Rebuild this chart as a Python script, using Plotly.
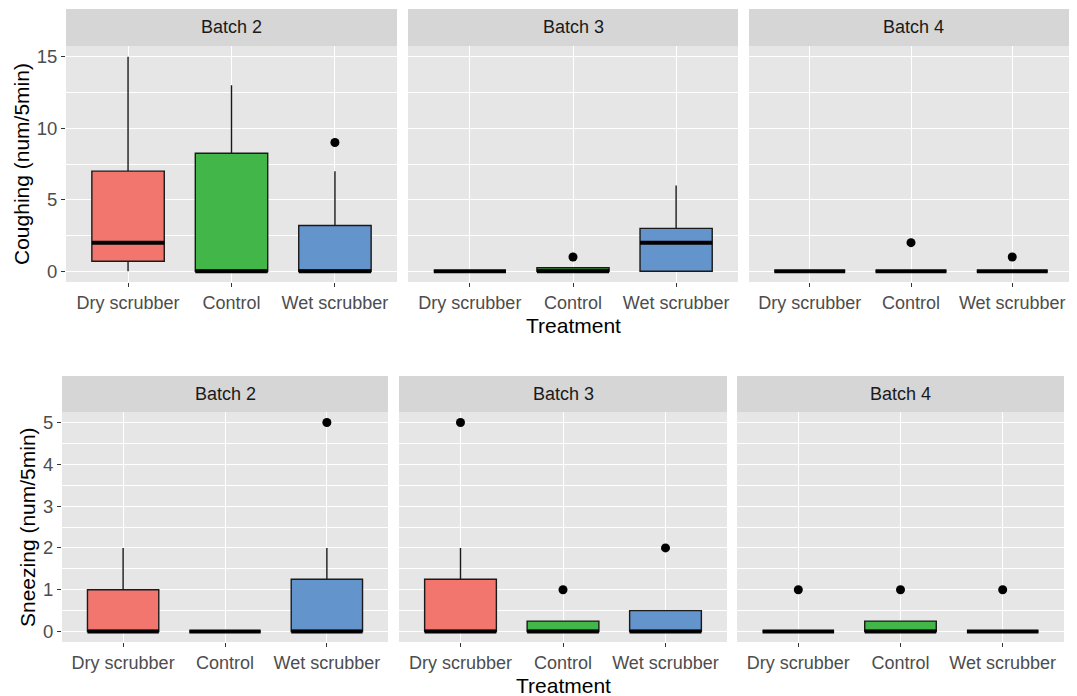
import plotly.graph_objects as go

# ---------------- data ----------------
treatments = ["Dry scrubber", "Control", "Wet scrubber"]
batches = ["Batch 2", "Batch 3", "Batch 4"]
fill_colors = ["#F2766E", "#42B649", "#6494CC"]

# Coughing (num/5min): per batch, per treatment
cough_low = [[0, 0, 0], [0, 0, 0], [0, 0, 0]]
cough_q1 = [[0.7, 0, 0], [0, 0, 0], [0, 0, 0]]
cough_med = [[2, 0, 0], [0, 0, 2], [0, 0, 0]]
cough_q3 = [[7, 8.25, 3.2], [0, 0.25, 3], [0, 0, 0]]
cough_high = [[15, 13, 7], [0, 0.25, 6], [0, 0, 0]]
cough_out = [[[], [], [9]], [[], [1], []], [[], [2], [1]]]

# Sneezing (num/5min)
sneeze_low = [[0, 0, 0], [0, 0, 0], [0, 0, 0]]
sneeze_q1 = [[0, 0, 0], [0, 0, 0], [0, 0, 0]]
sneeze_med = [[0, 0, 0], [0, 0, 0], [0, 0, 0]]
sneeze_q3 = [[1, 0, 1.25], [1.25, 0.25, 0.5], [0, 0.25, 0]]
sneeze_high = [[2, 0, 2], [2, 0.25, 0.5], [0, 0.25, 0]]
sneeze_out = [[[], [], [5]], [[5], [1], [2]], [[1], [1], [1]]]

measures = [
    dict(title="Coughing (num/5min)", low=cough_low, q1=cough_q1, med=cough_med,
         q3=cough_q3, high=cough_high, out=cough_out,
         yrange=[-0.75, 15.75], ticks=[0, 5, 10, 15], minor=2.5),
    dict(title="Sneezing (num/5min)", low=sneeze_low, q1=sneeze_q1, med=sneeze_med,
         q3=sneeze_q3, high=sneeze_high, out=sneeze_out,
         yrange=[-0.25, 5.25], ticks=[0, 1, 2, 3, 4, 5], minor=0.5),
]

# ---------------- layout geometry (window pixels) ----------------
OFF = 8  # page body margin
W, H = 1077 - OFF, 696 - OFF
row_geom = [
    dict(cols=[(66, 397), (408, 738), (749, 1073)], plot=(46, 282), strip=(9, 46),
         strip_right=1077),
    dict(cols=[(62, 388), (399, 727), (737, 1064)], plot=(412, 642), strip=(376, 412),
         strip_right=1064),
]


def fx(p):
    return min(1.0, max(0.0, (p - OFF) / W))


def fy(p):
    return min(1.0, max(0.0, 1 - (p - OFF) / H))


FONT = "Liberation Sans, Arial, sans-serif"
BOX_W = 0.7

fig = go.Figure()
layout = dict(
    width=W, height=H,
    margin=dict(l=0, r=0, t=0, b=0),
    paper_bgcolor="white",
    plot_bgcolor="#E6E6E6",
    showlegend=False,
    font=dict(family=FONT),
)
shapes = []
annotations = []

k = 0
for r, m in enumerate(measures):
    g = row_geom[r]
    for c, batch in enumerate(batches):
        k += 1
        xa = "x" if k == 1 else f"x{k}"
        ya = "y" if k == 1 else f"y{k}"
        x0p, x1p = g["cols"][c]
        y0p, y1p = g["plot"]
        s0, s1 = g["strip"]
        sx1 = g["strip_right"] if c == 2 else x1p

        for i, t in enumerate(treatments):
            fig.add_trace(go.Box(
                x=[i], q1=[m["q1"][c][i]], median=[m["med"][c][i]], q3=[m["q3"][c][i]],
                lowerfence=[m["low"][c][i]], upperfence=[m["high"][c][i]],
                width=BOX_W, whiskerwidth=0, boxpoints=False,
                fillcolor=fill_colors[i], line=dict(color="#1A1A1A", width=1.4),
                xaxis=xa, yaxis=ya, name=t, hoverinfo="skip",
            ))
        # thick median lines
        for i, t in enumerate(treatments):
            md = m["med"][c][i]
            fig.add_trace(go.Scatter(
                x=[i - BOX_W / 2, i + BOX_W / 2], y=[md, md], mode="lines",
                line=dict(color="black", width=4), xaxis=xa, yaxis=ya,
                hoverinfo="skip",
            ))
        # outliers
        ox, oy = [], []
        for i, t in enumerate(treatments):
            for v in m["out"][c][i]:
                ox.append(i)
                oy.append(v)
        if ox:
            fig.add_trace(go.Scatter(
                x=ox, y=oy, mode="markers",
                marker=dict(color="black", size=9), xaxis=xa, yaxis=ya,
                hoverinfo="skip",
            ))

        layout["xaxis" if k == 1 else f"xaxis{k}"] = dict(
            domain=[fx(x0p), fx(x1p)], anchor=ya, range=[-0.6, 2.6],
            tickmode="array", tickvals=[0, 1, 2], ticktext=treatments,
            showgrid=True, gridcolor="white", gridwidth=1.4, zeroline=False,
            ticks="outside", ticklen=4, tickwidth=1, tickcolor="#333333",
            tickfont=dict(size=18, color="#4D4D4D", family=FONT),
            ticklabeloverflow="allow",
            showline=False, fixedrange=True,
        )
        layout["yaxis" if k == 1 else f"yaxis{k}"] = dict(
            domain=[fy(y1p), fy(y0p)], anchor=xa, range=m["yrange"],
            tickmode="array", tickvals=m["ticks"],
            showgrid=True, gridcolor="white", gridwidth=1.4, zeroline=False,
            minor=dict(dtick=m["minor"], tick0=0, showgrid=True, gridcolor="white",
                       gridwidth=0.7, ticks=""),
            ticks="outside" if c == 0 else "", ticklen=4, tickwidth=1,
            tickcolor="#333333", showticklabels=(c == 0),
            tickfont=dict(size=18.5, color="#4D4D4D", family=FONT),
            showline=False, fixedrange=True,
        )

        # facet strip
        shapes.append(dict(type="rect", xref="paper", yref="paper",
                           x0=fx(x0p), x1=fx(sx1), y0=fy(s1), y1=fy(s0),
                           fillcolor="#D6D6D6", line=dict(width=0), layer="below"))
        annotations.append(dict(text=batch, xref="paper", yref="paper",
                                x=fx((x0p + sx1) / 2), y=fy((s0 + s1) / 2),
                                showarrow=False, xanchor="center", yanchor="middle",
                                font=dict(size=18, color="#1A1A1A", family=FONT)))

    # y axis title
    y0p, y1p = g["plot"]
    annotations.append(dict(text=m["title"], xref="paper", yref="paper",
                            x=fx(22 if r == 0 else 27), y=fy((y0p + y1p) / 2),
                            textangle=-90, showarrow=False,
                            xanchor="center", yanchor="middle",
                            font=dict(size=21, color="black", family=FONT)))
    # x axis title
    mx0, mx1 = g["cols"][1]
    annotations.append(dict(text="Treatment", xref="paper", yref="paper",
                            x=fx((mx0 + mx1) / 2), y=fy(326 if r == 0 else 685),
                            showarrow=False, xanchor="center", yanchor="middle",
                            font=dict(size=21, color="black", family=FONT)))

layout["shapes"] = shapes
layout["annotations"] = annotations
fig.update_layout(**layout)

fig.write_html("out.html")
